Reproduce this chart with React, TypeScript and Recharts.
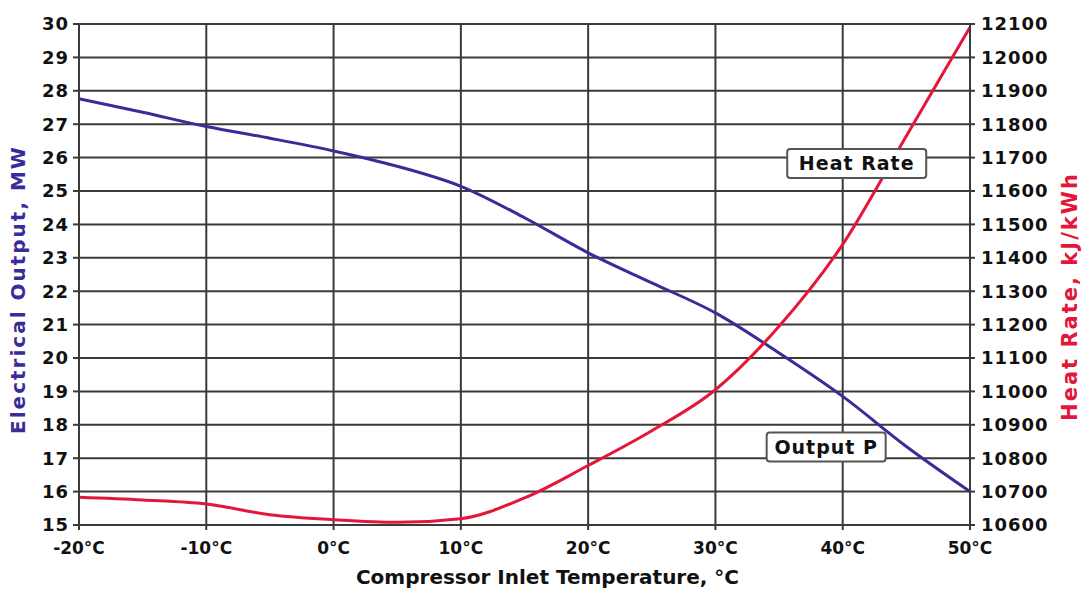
import { LineChart, Line, XAxis, YAxis, CartesianGrid, ReferenceDot, Label } from "recharts";

const temps = [-20, -15, -10, -5, 0, 5, 10, 15, 20, 25, 30, 35, 40, 45, 50];
const outputMW = [27.76, 27.36, 26.93, 26.58, 26.2, 25.74, 25.14, 24.2, 23.15, 22.25, 21.35, 20.15, 18.85, 17.35, 16.0];
const heatRate = [10683, 10675, 10663, 10631, 10616, 10608, 10619, 10681, 10778, 10882, 11005, 11195, 11440, 11765, 12090];

const xTicks = [-20, -10, 0, 10, 20, 30, 40, 50];
const leftTicks = [15, 16, 17, 18, 19, 20, 21, 22, 23, 24, 25, 26, 27, 28, 29, 30];
const rightTicks = [10600, 10700, 10800, 10900, 11000, 11100, 11200, 11300, 11400, 11500, 11600, 11700, 11800, 11900, 12000, 12100];

const data = temps.map((t, i) => ({ t, output: outputMW[i], heat: heatRate[i] }));

const BLUE = "#3a2b98";
const RED = "#e4163a";
const GRID = "#3a3a3a";
const FONT = "'DejaVu Sans', sans-serif";

const xTickStyle = { fontFamily: FONT, fontWeight: 700, fontSize: 17, fill: "#111" };
const yTickStyle = { fontFamily: FONT, fontWeight: 700, fontSize: 18, fill: "#111", letterSpacing: 1 };

function boxLabel(text: string, w: number) {
    return (props: any) => {
        const { cx, cy } = props;
        return (
            <g>
                <rect x={cx - w / 2} y={cy - 14} width={w} height={29} rx={3} fill="#fff" stroke="#555" strokeWidth={2} />
                <text x={cx} y={cy + 7} textAnchor="middle" fontFamily={FONT} fontWeight={700} fontSize={19} letterSpacing={1} fill="#111">
                    {text}
                </text>
            </g>
        );
    };
}

export default function App() {
    return (
        <div style={{ position: "absolute", left: 0, top: 0, width: 1086, height: 590, background: "#fff" }}>
            <LineChart width={1086} height={590} data={data} margin={{ top: 24, right: 0, bottom: 4, left: 0 }}>
                <CartesianGrid yAxisId="left" stroke={GRID} strokeWidth={2} />
                <XAxis
                    dataKey="t"
                    type="number"
                    domain={[-20, 50]}
                    ticks={xTicks}
                    tickFormatter={(v) => `${v}°C`}
                    tick={xTickStyle}
                    tickSize={5}
                    tickMargin={12}
                    height={61}
                    stroke={GRID}
                    strokeWidth={2}
                >
                    <Label
                        value="Compressor Inlet Temperature, °C"
                        position="insideBottom"
                        offset={2}
                        dx={23}
                        style={{ fontFamily: FONT, fontWeight: 700, fontSize: 20, fill: "#111" }}
                    />
                </XAxis>
                <YAxis
                    yAxisId="left"
                    domain={[15, 30]}
                    ticks={leftTicks}
                    tick={yTickStyle}
                    tickSize={6}
                    tickMargin={4}
                    width={79}
                    interval={0}
                    stroke={GRID}
                    strokeWidth={2}
                >
                    <Label
                        value="Electrical Output, MW"
                        angle={-90}
                        position="insideLeft"
                        offset={18}
                        dy={15}
                        style={{ fontFamily: FONT, fontWeight: 700, fontSize: 20, letterSpacing: 2, fill: BLUE, textAnchor: "middle" }}
                    />
                </YAxis>
                <YAxis
                    yAxisId="right"
                    orientation="right"
                    domain={[10600, 12100]}
                    ticks={rightTicks}
                    tick={yTickStyle}
                    tickSize={5}
                    tickMargin={6}
                    width={116}
                    interval={0}
                    stroke={GRID}
                    strokeWidth={2}
                >
                    <Label
                        value="Heat Rate, kJ/kWh"
                        angle={-90}
                        position="insideRight"
                        offset={16}
                        dy={22}
                        style={{ fontFamily: FONT, fontWeight: 700, fontSize: 21, letterSpacing: 2, fill: RED, textAnchor: "middle" }}
                    />
                </YAxis>
                <Line
                    yAxisId="left"
                    type="monotone"
                    dataKey="output"
                    stroke={BLUE}
                    strokeWidth={3}
                    dot={false}
                    isAnimationActive={false}
                />
                <Line
                    yAxisId="right"
                    type="monotone"
                    dataKey="heat"
                    stroke={RED}
                    strokeWidth={3}
                    dot={false}
                    isAnimationActive={false}
                />
                <ReferenceDot yAxisId="left" x={41.1} y={25.84} shape={boxLabel("Heat Rate", 139)} />
                <ReferenceDot yAxisId="left" x={38.7} y={17.35} shape={boxLabel("Output P", 119)} />
            </LineChart>
        </div>
    );
}
